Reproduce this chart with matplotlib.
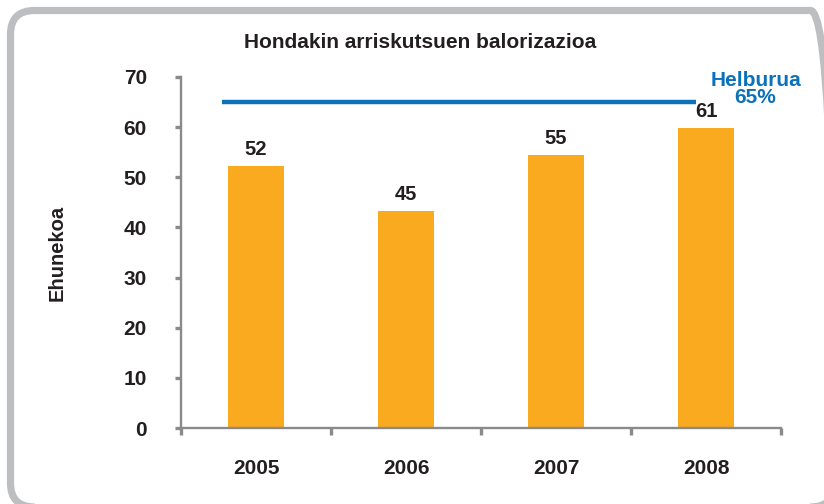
import numpy as np
import matplotlib.pyplot as plt
from matplotlib.patches import FancyBboxPatch
from matplotlib.transforms import IdentityTransform

# data
years = ["2005", "2006", "2007", "2008"]
values = [52.3, 43.3, 54.4, 59.8]
value_labels = ["52", "45", "55", "61"]
target = 65
target_label = "Helburua\n65%"

TXT = "#231F20"
GREY = "#8A8A8A"
ORANGE = "#FAAA1E"
BLUE = "#0B72BA"

plt.rcParams["font.family"] = ["Liberation Sans", "DejaVu Sans"]
plt.rcParams["font.weight"] = "bold"

fig = plt.figure(figsize=(8.24, 5.04), dpi=100)

# rounded grey frame (pixel coordinates), partly cut by the image edge
frame = FancyBboxPatch((10.5, -3), 824, 496.5, boxstyle="round,pad=0,rounding_size=24",
                       transform=IdentityTransform(), fill=False,
                       edgecolor="#BDBEC0", linewidth=5.2)
fig.patches.append(frame)

ax = fig.add_axes([181 / 824, 1 - 428 / 504, 600 / 824, 351 / 504])
x = np.arange(len(years))
ax.bar(x, values, width=0.37, color=ORANGE, zorder=2)
for xi, v, lab in zip(x, values, value_labels):
    ax.annotate(lab, (xi, v), xytext=(0, 5), textcoords="offset points",
                ha="center", va="bottom", fontsize=14.5, fontweight="bold", color=TXT)

ax.plot([-0.23, 2.93], [target, target], color=BLUE, lw=3.2, solid_capstyle="butt")
ax.text(3.33, 67.6, target_label, ha="center", va="center", color=BLUE,
        fontsize=15, fontweight="bold", linespacing=0.9)

ax.set_xlim(-0.5, 3.5)
ax.set_ylim(0, 70)
ax.set_yticks(range(0, 71, 10))
ax.set_xticks(x)
ax.set_xticklabels(years)
ax.set_xticks(np.arange(-0.5, 3.6, 1), minor=True)

for s in ["top", "right"]:
    ax.spines[s].set_visible(False)
for s in ["left", "bottom"]:
    ax.spines[s].set_color(GREY)
    ax.spines[s].set_linewidth(1.7)

ax.tick_params(axis="x", which="major", length=0, pad=22, labelsize=15, labelcolor=TXT)
ax.tick_params(axis="x", which="minor", length=5, width=2.4, color=GREY, direction="out")
ax.tick_params(axis="y", which="major", length=4.5, width=2.4, color=GREY, pad=20,
               labelsize=15, labelcolor=TXT)

fig.text(420 / 824, 1 - 42 / 504, "Hondakin arriskutsuen balorizazioa",
         ha="center", va="center", fontsize=15, fontweight="bold", color=TXT)
fig.text(57 / 824, 1 - 253 / 504, "Ehunekoa", rotation=90, ha="center", va="center",
         fontsize=14.5, fontweight="bold", color=TXT)

fig.savefig("out.png", dpi=100)
